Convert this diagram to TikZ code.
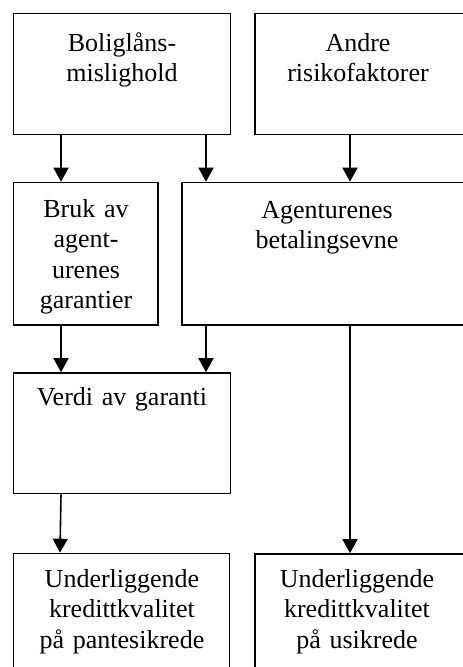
\documentclass[tikz,border=0pt]{standalone}
\usepackage{fontspec}
\setmainfont{Liberation Serif}
\usetikzlibrary{arrows.meta}
\begin{document}
\begin{tikzpicture}[x=1pt,y=-1pt,
  box/.style={draw, line width=1.6pt, inner sep=0pt, rectangle},
  txt/.style={align=center, text width=210pt, anchor=base, inner sep=0pt, font=\fontsize{26}{30.5}\selectfont},
  arr/.style={line width=1.6pt, -{Triangle[length=14pt,width=15pt]}}]
\useasboundingbox (0,0) rectangle (463,667);
% boxes
\node[box, minimum width=217pt, minimum height=121pt] (A) at (122,74) {};
\node[box, minimum width=217pt, minimum height=121pt] (B) at (363.5,74) {};
\node[box, minimum width=144.5pt, minimum height=142.5pt] (C) at (85.75,253.75) {};
\node[box, minimum width=290pt, minimum height=142.5pt] (D) at (327,253.75) {};
\node[box, minimum width=217pt, minimum height=120.5pt] (E) at (122,433.25) {};
\node[box, minimum width=216pt, minimum height=130pt] (F) at (121.5,618.5) {};
\node[box, minimum width=217pt, minimum height=130pt] (G) at (363.5,619) {};
% texts
\node[txt] (tA) at (122,51) {Boliglåns-\\mislighold};
\node[txt] (tB) at (358,51) {Andre\\risikofaktorer};
\node[txt] (tC) at (86,217) {Bruk av\\agent-\\urenes\\garantier};
\node[txt] (tD) at (327,218) {Agenturenes\\betalingsevne};
\node[txt] (tE) at (122,405) {Verdi av garanti};
\node[txt] (tF) at (122,587) {Underliggende\\kredittkvalitet\\på pantesikrede};
\node[txt] (tG) at (357,587) {Underliggende\\kredittkvalitet\\på usikrede};
% arrow columns
\coordinate (c0) at (60,0);
\coordinate (c1) at (61,0);
\coordinate (c2) at (206,0);
\coordinate (c3) at (350,0);
\draw[arr] (A.south -| c1) -- (C.north -| c1);
\draw[arr] (A.south -| c2) -- (D.north -| c2);
\draw[arr] (B.south -| c3) -- (D.north -| c3);
\draw[arr] (C.south -| c1) -- (E.north -| c1);
\draw[arr] (D.south -| c2) -- (E.north -| c2);
\draw[arr] (E.south -| c1) -- (F.north -| c0);
\draw[arr] (D.south -| c3) -- (G.north -| c3);
\end{tikzpicture}
\end{document}
